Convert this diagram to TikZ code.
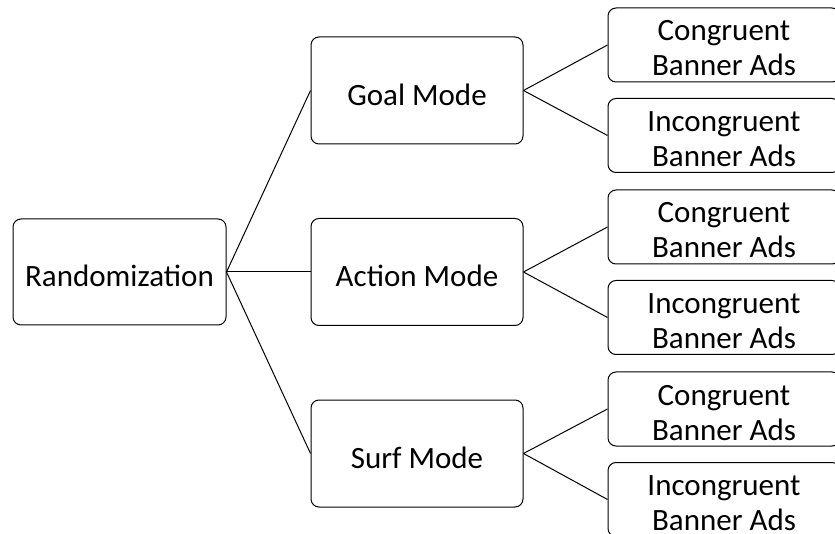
\documentclass[tikz,border=0pt]{standalone}
\usepackage{fontspec}
\setmainfont{Carlito}
\usepackage{tikz}

\begin{document}
\begin{tikzpicture}[x=1pt,y=-1pt,
    modebox/.style={draw, line width=1pt, rounded corners=8pt, minimum width=212pt, minimum height=107pt, text height=30pt, text depth=0pt, font=\fontsize{31}{37}\selectfont},
    adbox/.style={draw, line width=1pt, rounded corners=8pt, minimum width=232pt, minimum height=74pt, align=center, text height=62pt, text depth=0pt, font=\fontsize{31}{35}\selectfont},
    link/.style={line width=1pt}]

\clip (0,0) rectangle (835,534);

    {
        \node[modebox, minimum width=213pt, minimum height=106pt] (11) at (119.5,272) {Randomization};
 }

    {
        \node[modebox] (21) at (417,90.5) {Goal Mode};
 }
    {
        \node[modebox] (22) at (417,272) {Action Mode};
 }
    {
        \node[modebox] (23) at (417,453.5) {Surf Mode};
 }

    {
        \node[adbox] (31) at (724,45) {Congruent\\Banner Ads};
 }
    {
        \node[adbox] (32) at (724,135.5) {Incongruent\\Banner Ads};
 }
    {
        \node[adbox] (33) at (724,227) {Congruent\\Banner Ads};
 }
    {
        \node[adbox] (34) at (724,317.5) {Incongruent\\Banner Ads};
 }
    {
        \node[adbox] (35) at (724,409) {Congruent\\Banner Ads};
 }
    {
        \node[adbox] (36) at (724,499.5) {Incongruent\\Banner Ads};
 };

\draw[link] (11.east)--(21.west);
\draw[link] (11.east)--(22.west);
\draw[link] (11.east)--(23.west);

\draw[link] (21.east)--(31.west);
\draw[link] (21.east)--(32.west);
\draw[link] (22.east)--(33.west);
\draw[link] (22.east)--(34.west);
\draw[link] (23.east)--(35.west);
\draw[link] (23.east)--(36.west);

\end{tikzpicture}
\end{document}
